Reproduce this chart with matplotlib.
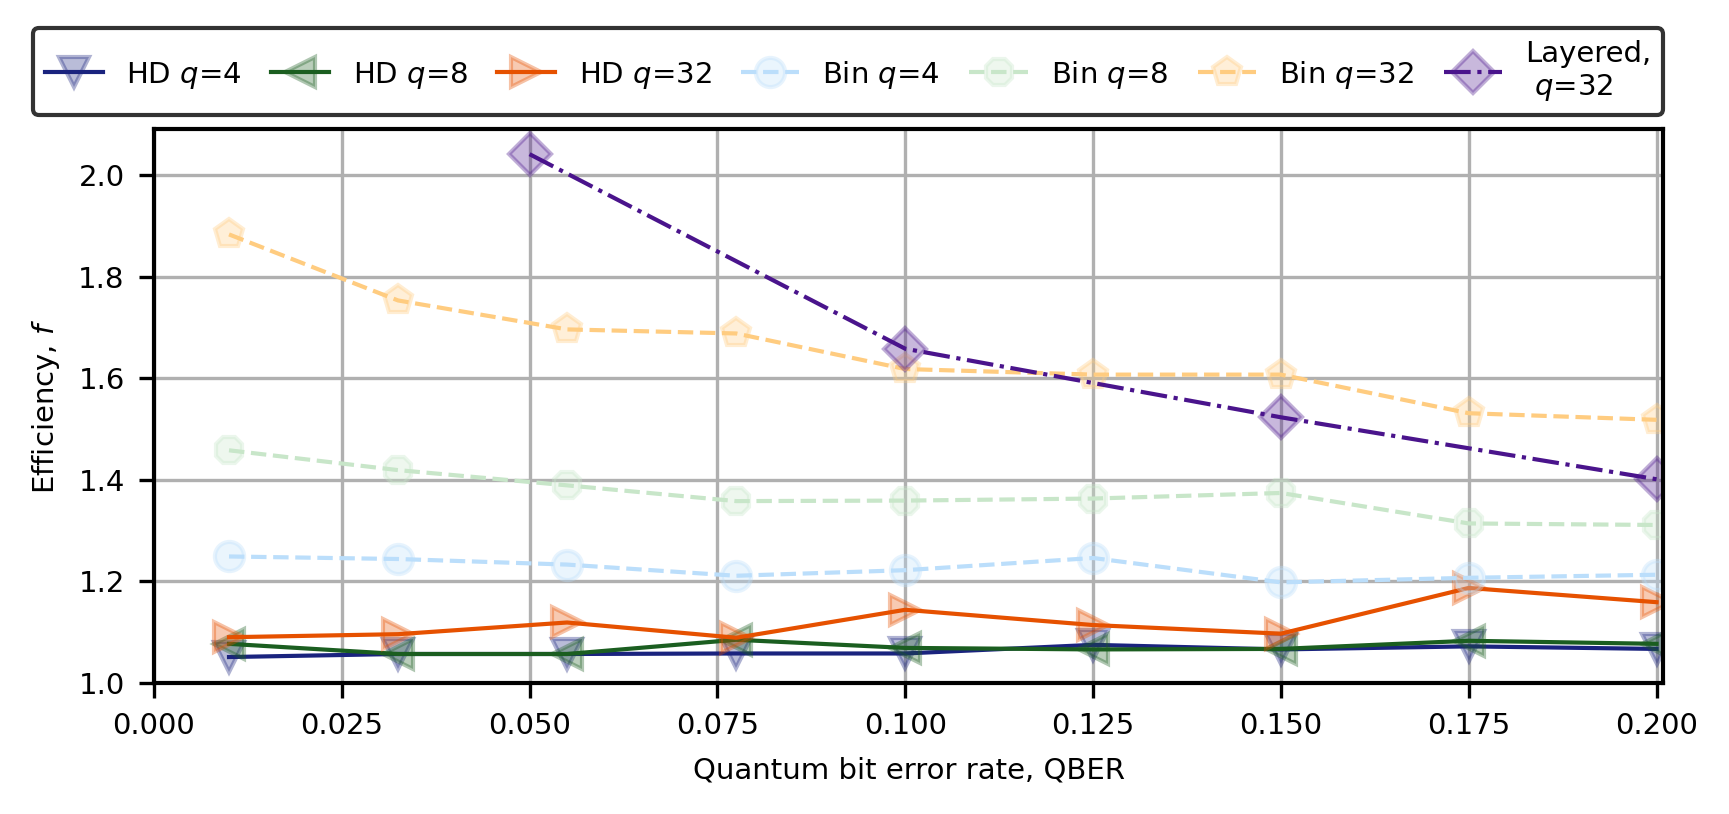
import matplotlib
matplotlib.use("Agg")
import matplotlib.pyplot as plt
from matplotlib.colors import to_rgba

qber = [0.01, 0.0325, 0.055, 0.0775, 0.1, 0.125, 0.15, 0.175, 0.2]
qber_layered = [0.05, 0.1, 0.15, 0.2]

hd_q4 = [1.051, 1.057, 1.057, 1.058, 1.058, 1.075, 1.066, 1.072, 1.067]
hd_q8 = [1.077, 1.057, 1.057, 1.085, 1.069, 1.066, 1.067, 1.083, 1.077]
hd_q32 = [1.090, 1.096, 1.119, 1.089, 1.144, 1.114, 1.097, 1.187, 1.159]
bin_q4 = [1.249, 1.244, 1.233, 1.211, 1.222, 1.246, 1.198, 1.207, 1.213]
bin_q8 = [1.458, 1.419, 1.389, 1.358, 1.359, 1.363, 1.374, 1.314, 1.311]
bin_q32 = [1.883, 1.753, 1.696, 1.688, 1.618, 1.607, 1.607, 1.531, 1.518]
layered_q32 = [2.041, 1.658, 1.523, 1.401]

labels = ["HD $q$=4", "HD $q$=8", "HD $q$=32", "Bin $q$=4", "Bin $q$=8",
          "Bin $q$=32", "Layered,\n $q$=32"]

series = [
    (qber, hd_q4, "#1a237e", "v", "-"),
    (qber, hd_q8, "#1b5e20", "<", "-"),
    (qber, hd_q32, "#e65100", ">", "-"),
    (qber, bin_q4, "#bbdefb", "o", "--"),
    (qber, bin_q8, "#c8e6c9", "8", "--"),
    (qber, bin_q32, "#ffcc80", "p", "--"),
    (qber_layered, layered_q32, "#4a148c", "D", "-."),
]

fig = plt.figure(figsize=(1729 / 300, 814 / 300), dpi=300)
ax = fig.add_axes([0.089, 0.161, 0.873, 0.6805])

for (x, y, c, m, ls), lab in zip(series, labels):
    ax.plot(x, y, color=c, linestyle=ls, linewidth=1.0, marker=m, markersize=7,
            markerfacecolor=to_rgba(c, 0.3), markeredgecolor=to_rgba(c, 0.35),
            markeredgewidth=1.0, label=lab)

ax.set_xlim(0, 0.2009)
ax.set_ylim(bottom=1.0)
ax.set_yticks([1.0, 1.2, 1.4, 1.6, 1.8, 2.0])
ax.grid(True, color="#b0b0b0", linewidth=0.8)
ax.set_axisbelow(True)
for sp in ax.spines.values():
    sp.set_linewidth(1.0)
ax.tick_params(labelsize=7, width=0.8, length=3.5)
ax.set_xlabel("Quantum bit error rate, QBER", fontsize=7)
ax.set_ylabel("Efficiency, $f$", fontsize=7)

leg = fig.legend(loc="lower left", bbox_to_anchor=(0.019, 0.8587, 0.943, 0.10),
                 mode="expand", ncol=7, fontsize=7, borderaxespad=0,
                 edgecolor="k", framealpha=0.8, fancybox=True,
                 handlelength=2.0, handletextpad=0.8, columnspacing=1.0)
leg.get_frame().set_linewidth(1.0)

fig.savefig("out.png", dpi=300)
